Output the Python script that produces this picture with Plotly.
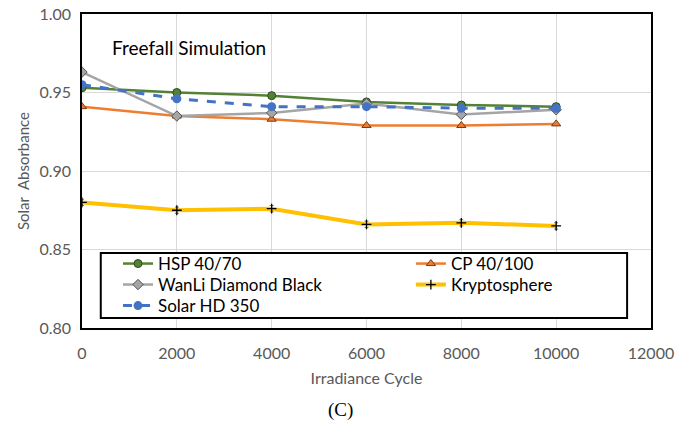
import plotly.graph_objects as go

cycles = [0, 2000, 4000, 6000, 8000, 10000]
hsp = [0.953, 0.950, 0.948, 0.944, 0.942, 0.941]
cp = [0.941, 0.935, 0.933, 0.929, 0.929, 0.930]
wanli = [0.963, 0.935, 0.937, 0.943, 0.936, 0.939]
krypto = [0.880, 0.875, 0.876, 0.866, 0.867, 0.865]
krypto_err = [0.002, 0.002, 0.002, 0.002, 0.002, 0.002]
solar = [0.955, 0.946, 0.941, 0.941, 0.940, 0.940]

x_ticks = [0, 2000, 4000, 6000, 8000, 10000, 12000]
y_ticks = [0.80, 0.85, 0.90, 0.95, 1.00]

FONT = "Lato"
TICKC = "#595959"

fig = go.Figure()

fig.add_trace(go.Scatter(
    x=cycles, y=hsp, name="HSP 40/70", mode="lines+markers", legend="legend", showlegend=True,
    line=dict(color="#548235", width=2.5),
    marker=dict(symbol="circle", size=8, color="#548235", line=dict(color="#2f4a1d", width=1))))
fig.add_trace(go.Scatter(
    x=cycles, y=cp, name="CP 40/100", mode="lines+markers", legend="legend2", showlegend=True,
    line=dict(color="#ED7D31", width=2.5),
    marker=dict(symbol="triangle-up", size=8, color="#ED7D31", line=dict(color="#7a3a10", width=1))))
fig.add_trace(go.Scatter(
    x=cycles, y=wanli, name="WanLi Diamond Black", mode="lines+markers", legend="legend3", showlegend=True,
    line=dict(color="#A5A5A5", width=2.5),
    marker=dict(symbol="diamond", size=8, color="#A5A5A5", line=dict(color="#555555", width=1))))
fig.add_trace(go.Scatter(
    x=cycles, y=krypto, name="Kryptosphere", mode="lines+markers", legend="legend4", showlegend=True,
    line=dict(color="#FFC000", width=4),
    error_y=dict(type="data", array=krypto_err, color="#777777", thickness=1, width=2),
    marker=dict(symbol="cross-thin", size=7, color="#000000", line=dict(color="#000000", width=1.3))))
fig.add_trace(go.Scatter(
    x=cycles, y=solar, name="Solar HD 350", mode="lines+markers", legend="legend5", showlegend=True,
    line=dict(color="#4472C4", width=3, dash="dash"),
    marker=dict(symbol="circle", size=9, color="#4472C4")))

# legend frame
fig.add_shape(type="rect", xref="paper", yref="paper",
              x0=0.033, x1=0.958, y0=0.032, y1=0.239,
              line=dict(color="black", width=2), fillcolor="white", layer="above")

fig.add_annotation(text="Freefall Simulation", xref="paper", yref="paper",
                   x=0.049, y=0.892, xanchor="left", yanchor="middle", showarrow=False,
                   font=dict(family=FONT, size=19, color="black"))
fig.add_annotation(text="(C)", xref="paper", yref="paper",
                   x=0.455, y=-0.26, xanchor="center", yanchor="middle", showarrow=False,
                   font=dict(family="Liberation Serif", size=19, color="black"))

leg_common = dict(xanchor="left", yanchor="middle", bgcolor="rgba(0,0,0,0)",
                  itemwidth=30, tracegroupgap=0,
                  font=dict(family=FONT, size=17, color="black"))
col1, col2 = 0.0633, 0.578
row1, row2, row3 = 0.2038, 0.137, 0.070

fig.update_layout(
    width=679, height=421,
    margin=dict(l=82, r=28, t=14, b=93),
    showlegend=True,
    paper_bgcolor="white", plot_bgcolor="white",
    font=dict(family=FONT, size=16, color=TICKC),
    legend=dict(x=col1, y=row1, **leg_common),
    legend2=dict(x=col2, y=row1, **leg_common),
    legend3=dict(x=col1, y=row2, **leg_common),
    legend4=dict(x=col2, y=row2, **leg_common),
    legend5=dict(x=col1, y=row3, **leg_common),
    xaxis=dict(range=[0, 12000], tickvals=x_ticks, ticktext=[str(v) for v in x_ticks],
               showgrid=True, gridcolor="#d9d9d9", gridwidth=1, automargin=False,
               showline=True, linecolor="black", linewidth=1.5, mirror=True,
               zeroline=False, ticks="", ticklabelstandoff=10,
               title=dict(text="Irradiance Cycle", font=dict(family=FONT, size=16, color=TICKC), standoff=12)),
    yaxis=dict(range=[0.80, 1.00], tickvals=y_ticks, ticktext=[f"{v:.2f}" for v in y_ticks],
               showgrid=True, gridcolor="#d9d9d9", gridwidth=1, automargin=False,
               showline=True, linecolor="black", linewidth=1.5, mirror=True,
               zeroline=False, ticks="", ticklabelstandoff=6,
               title=dict(text="Solar  Absorbance", font=dict(family=FONT, size=15, color=TICKC), standoff=6)),
)

fig.write_html("out.html")
